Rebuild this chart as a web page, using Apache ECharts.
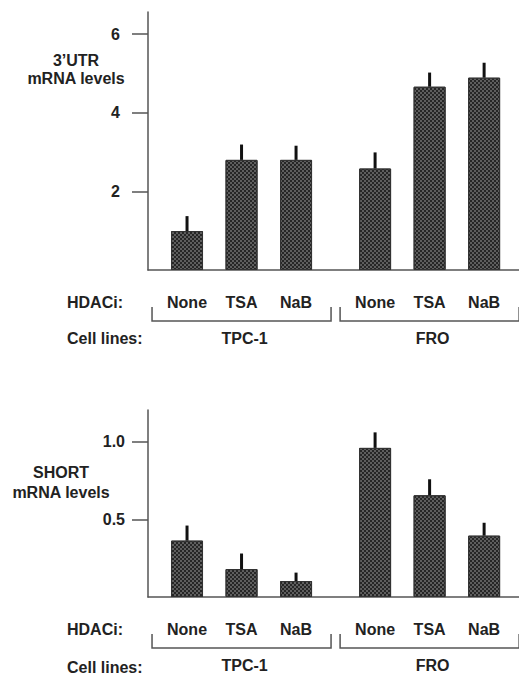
<!DOCTYPE html>
<html>
<head>
<meta charset="utf-8">
<script src="https://cdn.jsdelivr.net/npm/echarts@6/dist/echarts.min.js"></script>
<style>
  html, body { margin: 0; padding: 0; background: #fff; }
  #chart { width: 519px; height: 678px; }
</style>
</head>
<body>
<div id="chart"></div>
<script>
// data
var treatments = ['None', 'TSA', 'NaB', 'None', 'TSA', 'NaB'];
var positions = [1, 2, 3, 4.45, 5.45, 6.45];
var cellLines = ['TPC-1', 'FRO'];
var cellLineSpans = [[1, 3], [4.45, 6.45]];

var utrValues = [0.99, 2.80, 2.80, 2.58, 4.66, 4.89];
var utrErrors = [0.38, 0.39, 0.36, 0.41, 0.36, 0.38];
var utrTicks = [2, 4, 6];

var shortValues = [0.363, 0.18, 0.103, 0.96, 0.655, 0.395];
var shortErrors = [0.097, 0.10, 0.054, 0.10, 0.103, 0.083];
var shortTicks = [0.5, 1.0];

var FONT = 'bold 16px "Liberation Sans", Arial, sans-serif';
var TXT = '#222';
var LINE = '#555';

var myChart = echarts.init(document.getElementById('chart'), null, { renderer: 'svg' });

function xAxisFor(gridIndex) {
    return {
        type: 'value', gridIndex: gridIndex, min: 0.284, max: 7.09,
        axisLine: { show: true, onZero: false, lineStyle: { color: LINE, width: 1.5 } },
        axisTick: { show: false }, axisLabel: { show: false }, splitLine: { show: false }
    };
}

function yAxisFor(gridIndex, max, ticks, margin, digits) {
    return {
        type: 'value', gridIndex: gridIndex, min: 0, max: max,
        axisLine: { show: true, lineStyle: { color: LINE, width: 1.5 } },
        axisTick: { show: true, length: 16, customValues: ticks, lineStyle: { color: LINE, width: 1.5 } },
        axisLabel: {
            customValues: ticks, margin: margin, color: TXT,
            fontWeight: 'bold', fontSize: 16, fontFamily: '"Liberation Sans", Arial, sans-serif',
            formatter: function (v) { return v.toFixed(digits); }
        },
        splitLine: { show: false }
    };
}

function barSeries(idx, values) {
    return {
        type: 'bar', xAxisIndex: idx, yAxisIndex: idx, barWidth: 32,
        data: positions.map(function (p, i) { return [p, values[i]]; }),
        itemStyle: {
            color: '#5e5e5e', borderColor: '#333', borderWidth: 1,
            decal: {
                symbol: 'rect', symbolSize: 1, color: '#262626', backgroundColor: null,
                dashArrayX: [[2, 2], [0, 2, 2, 0]], dashArrayY: [2, 0]
            }
        },
        silent: true
    };
}

function errorSeries(idx, values, errors) {
    return {
        type: 'custom', xAxisIndex: idx, yAxisIndex: idx,
        data: positions.map(function (p, i) { return [p, values[i], values[i] + errors[i]]; }),
        renderItem: function (params, api) {
            var a = api.coord([api.value(0), api.value(1)]);
            var b = api.coord([api.value(0), api.value(2)]);
            return { type: 'line', shape: { x1: a[0], y1: a[1], x2: b[0], y2: b[1] },
                     style: { stroke: '#111', lineWidth: 3 } };
        },
        z: 3, silent: true
    };
}

function labelSeries(idx) {
    return {
        type: 'custom', xAxisIndex: idx, yAxisIndex: idx,
        data: positions.map(function (p, i) { return [p, 0, i]; }),
        renderItem: function (params, api) {
            var p = api.coord([api.value(0), 0]);
            return { type: 'text', x: p[0], y: p[1] + 32,
                     style: { text: treatments[api.value(2)], align: 'center', verticalAlign: 'middle', font: FONT, fill: TXT } };
        },
        silent: true
    };
}

function bracketSeries(idx) {
    return {
        type: 'custom', xAxisIndex: idx, yAxisIndex: idx,
        data: cellLineSpans.map(function (s, i) { return [s[0], 0, s[1], i]; }),
        encode: { x: [0, 2], y: 1 },
        renderItem: function (params, api) {
            var a = api.coord([api.value(0), 0]);
            var b = api.coord([api.value(2), 0]);
            var x0 = a[0] - 35, x1 = b[0] + 35, y0 = a[1] + 37, y1 = a[1] + 51;
            return { type: 'group', children: [
                { type: 'polyline', shape: { points: [[x0, y0], [x0, y1], [x1, y1], [x1, y0]] },
                  style: { stroke: LINE, lineWidth: 1.5, fill: null } },
                { type: 'text', x: (x0 + x1) / 2 + 3, y: a[1] + 68,
                  style: { text: cellLines[api.value(3)], align: 'center', verticalAlign: 'middle', font: FONT, fill: TXT } }
            ] };
        },
        silent: true
    };
}

function sideText(text, x, y, align, lineHeight) {
    return { type: 'text', x: x, y: y,
             style: { text: text, align: align, verticalAlign: 'middle', font: FONT, fill: TXT, lineHeight: lineHeight || 18 } };
}

var option = {
    animation: false,
    grid: [
        { left: 148, top: 12, right: 0, height: 258 },
        { left: 148, top: 410, right: 0, height: 187 }
    ],
    xAxis: [xAxisFor(0), xAxisFor(1)],
    yAxis: [yAxisFor(0, 6.56, utrTicks, 28, 0), yAxisFor(1, 1.204, shortTicks, 23, 1)],
    graphic: [
        sideText('3’UTR\nmRNA levels', 76, 69, 'center', 18),
        sideText('SHORT\nmRNA levels', 61, 482, 'center', 20),
        sideText('HDACi:', 67, 302, 'left'),
        sideText('Cell lines:', 67, 338, 'left'),
        sideText('HDACi:', 67, 629, 'left'),
        sideText('Cell lines:', 67, 667, 'left')
    ],
    series: [
        barSeries(0, utrValues), errorSeries(0, utrValues, utrErrors), labelSeries(0), bracketSeries(0),
        barSeries(1, shortValues), errorSeries(1, shortValues, shortErrors), labelSeries(1), bracketSeries(1)
    ]
};
myChart.setOption(option);
</script>
</body>
</html>
